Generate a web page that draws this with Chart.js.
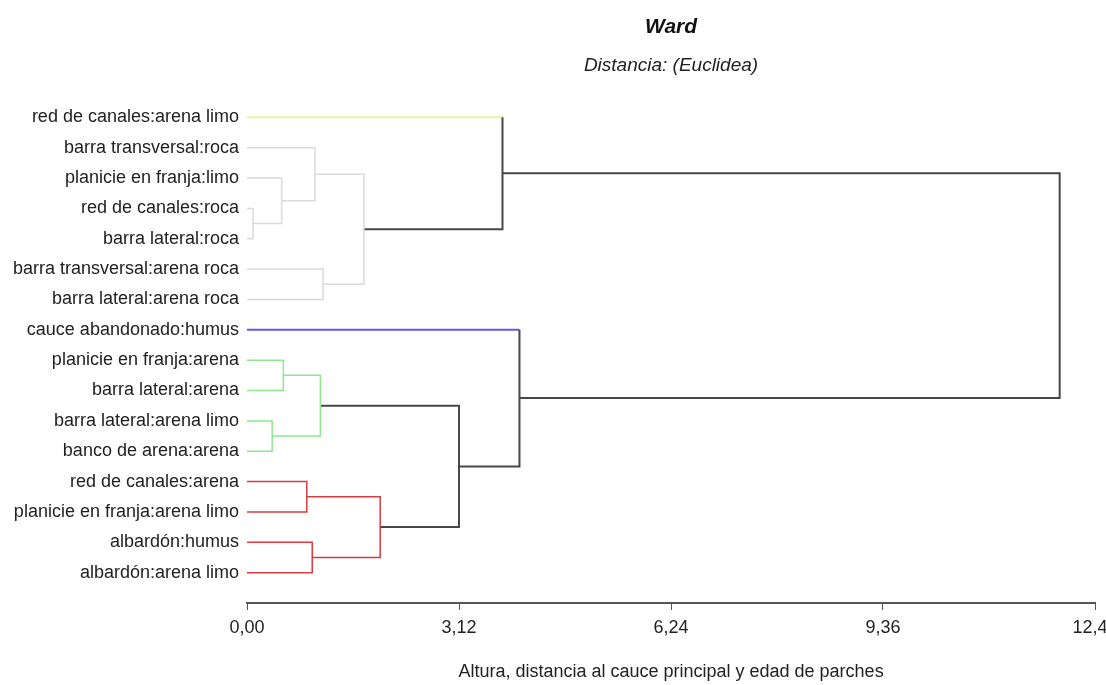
<!DOCTYPE html>
<html><head><meta charset="utf-8">
<script src="https://cdn.jsdelivr.net/npm/chart.js@4.4.0/dist/chart.umd.min.js"></script>
<style>html,body{margin:0;padding:0;background:#fff;overflow:hidden}#wrap{width:1106px;height:685px;position:relative}</style>
</head><body><div id="wrap"><canvas id="c"></canvas></div>
<script>
// Leaves (top to bottom)
const leafLabels = [
  'red de canales:arena limo',
  'barra transversal:roca',
  'planicie en franja:limo',
  'red de canales:roca',
  'barra lateral:roca',
  'barra transversal:arena roca',
  'barra lateral:arena roca',
  'cauce abandonado:humus',
  'planicie en franja:arena',
  'barra lateral:arena',
  'barra lateral:arena limo',
  'banco de arena:arena',
  'red de canales:arena',
  'planicie en franja:arena limo',
  'albardón:humus',
  'albardón:arena limo'
];
const leafCluster = ['yellow','grey','grey','grey','grey','grey','grey','blue','green','green','green','green','red','red','red','red'];
// Merges: node id = 16 + merge index
const mergeLeft   = [3, 2, 1, 5, 18, 0, 8, 10, 22, 12, 14, 25, 24, 7, 21];
const mergeRight  = [4, 16, 17, 6, 19, 20, 9, 11, 23, 13, 15, 26, 27, 28, 29];
const mergeHeight = [0.09, 0.51, 1.00, 1.12, 1.72, 3.76, 0.535, 0.37, 1.08, 0.88, 0.96, 1.96, 3.12, 4.01, 11.96];
const mergeCluster = ['grey','grey','grey','grey','grey','black','green','green','green','red','red','red','black','black','black'];
const xTicks = [0, 3.12, 6.24, 9.36, 12.48];

const palette = {yellow:'#ecf59c', grey:'#dadada', blue:'#6357ee', green:'#8fe68f', red:'#d83b40', black:'#474747'};
const widths = {yellow:2, grey:1.5, blue:2, green:1.5, red:1.5, black:2};

const nLeaf = leafLabels.length;
const nodeY = [], nodeH = [], nodeC = [];
leafLabels.forEach((_, i) => { nodeY[i] = i; nodeH[i] = 0; nodeC[i] = leafCluster[i]; });
mergeHeight.forEach((h, k) => {
  const id = nLeaf + k;
  nodeY[id] = (nodeY[mergeLeft[k]] + nodeY[mergeRight[k]]) / 2;
  nodeH[id] = h;
  nodeC[id] = mergeCluster[k];
});
function legColor(child, k) {
  if (mergeCluster[k] === 'black' && child < nLeaf) return nodeC[child];
  return mergeCluster[k];
}
const datasets = mergeHeight.map((h, k) => {
  const l = mergeLeft[k], r = mergeRight[k];
  const segC = [legColor(l, k), mergeCluster[k], legColor(r, k)];
  return {
    data: [{x: nodeH[l], y: nodeY[l]}, {x: h, y: nodeY[l]}, {x: h, y: nodeY[r]}, {x: nodeH[r], y: nodeY[r]}],
    showLine: true, pointRadius: 0, borderWidth: widths[mergeCluster[k]],
    borderColor: palette[mergeCluster[k]],
    segment: {
      borderColor: ctx => palette[segC[ctx.p0DataIndex]],
      borderWidth: ctx => widths[segC[ctx.p0DataIndex]]
    }
  };
});

Chart.defaults.font.family = "'Liberation Sans', Arial, sans-serif";
new Chart(document.getElementById('c'), {
  type: 'scatter',
  data: { datasets },
  options: {
    responsive: true, maintainAspectRatio: false, animation: false,
    layout: { padding: { left: 0, right: 11, top: 0, bottom: 0 } },
    plugins: {
      legend: { display: false }, tooltip: { enabled: false },
      title: { display: true, text: 'Ward', fullSize: false, color: '#111',
        font: { size: 21, weight: 'bold', style: 'italic' }, padding: { top: 15, bottom: 14 } },
      subtitle: { display: true, text: 'Distancia: (Euclidea)', fullSize: false, color: '#222',
        font: { size: 19, style: 'italic' }, padding: { top: 0, bottom: 10 } }
    },
    scales: {
      x: {
        type: 'linear', min: 0, max: 12.48,
        afterBuildTicks: s => { s.ticks = xTicks.map(v => ({ value: v })); },
        afterFit: s => { s.height = 82; s.paddingLeft = 0; s.paddingRight = 0; },
        ticks: { callback: v => Number(v).toFixed(2).replace('.', ','), font: { size: 18 }, color: '#222', padding: 7, maxRotation: 0, autoSkip: false },
        grid: { display: true, drawOnChartArea: false, drawTicks: true, tickLength: 7, color: '#555', lineWidth: 1 },
        border: { display: true, color: '#555', width: 2 },
        title: { display: true, text: 'Altura, distancia al cauce principal y edad de parches', color: '#222', font: { size: 18, lineHeight: 1.0 }, padding: { top: 0, bottom: 4 } }
      },
      y: {
        type: 'linear', reverse: true, min: -1, max: 16,
        afterBuildTicks: s => { s.ticks = leafLabels.map((_, i) => ({ value: i })); },
        afterFit: s => { s.width = 247; },
        ticks: { callback: v => leafLabels[v], font: { size: 18 }, color: '#222', padding: 8, autoSkip: false },
        grid: { display: false, drawTicks: false },
        border: { display: false }
      }
    }
  }
});
</script></body></html>
